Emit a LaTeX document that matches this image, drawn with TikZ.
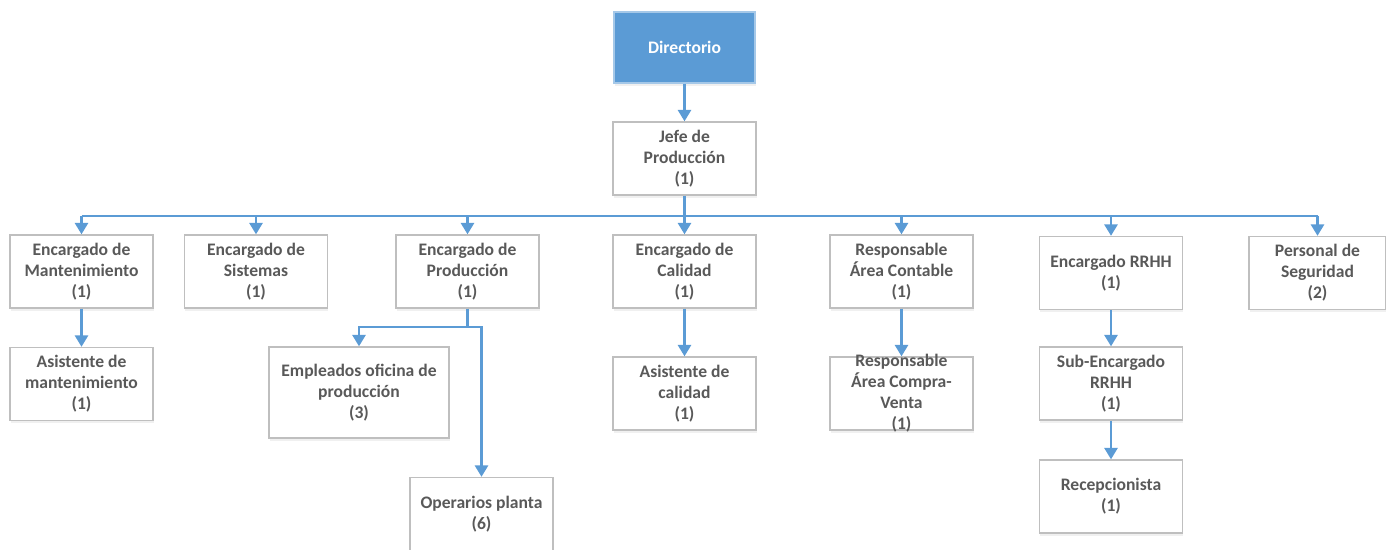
\documentclass[tikz,border=0pt]{standalone}
\usepackage{fontspec}
\setmainfont{Carlito}
\usetikzlibrary{arrows.meta,shadows}
\definecolor{orgblue}{HTML}{5B9BD5}
\definecolor{orgtext}{HTML}{595959}
\definecolor{orgline}{HTML}{BFBFBF}
\begin{document}
\begin{tikzpicture}[
  x=0.02cm, y=-0.02cm,
  every node/.style={font=\fontsize{10}{12}\selectfont\bfseries, align=center, text=orgtext},
  box/.style={draw=orgline, line width=0.8pt, fill=white, inner sep=2pt,
    minimum width=2.86cm, minimum height=1.46cm,
    drop shadow={opacity=0.12, shadow xshift=0.4pt, shadow yshift=-1.6pt}},
  link/.style={draw=orgblue, line width=1.3pt},
  arr/.style={link, -{Triangle[length=6.5pt, width=7.5pt]}}
]
\useasboundingbox (0,0) rectangle (1386,550);

\node[box, fill=orgblue, draw=orgblue!55, text=white, minimum width=2.82cm, minimum height=1.42cm]
  (dir) at (684.5,47.5) {Directorio};
\node[box] (jefe) at (684.5,158.5) {Jefe de\\Producción\\(1)};

\node[box] (man)  at (81.5,271.5)  {Encargado de\\Mantenimiento\\(1)};
\node[box] (sis)  at (256,271.5)   {Encargado de\\Sistemas\\(1)};
\node[box] (prod) at (467.5,271.5) {Encargado de\\Producción\\(1)};
\node[box] (cal)  at (684.5,271.5) {Encargado de\\Calidad\\(1)};
\node[box] (cont) at (901.5,271.5) {Responsable\\Área Contable\\(1)};
\node[box] (rrhh) at (1111,273)    {Encargado RRHH\\(1)};
\node[box, minimum width=2.74cm] (seg) at (1317.5,273) {Personal de\\Seguridad\\(2)};

\node[box] (asm)  at (81.5,384)    {Asistente de\\mantenimiento\\(1)};
\node[box, minimum width=3.6cm, minimum height=1.82cm]
  (emp) at (359,392.5) {Empleados oficina de\\producción\\(3)};
\node[box] (ope)  at (481.5,514)   {Operarios planta\\(6)};
\node[box] (acal) at (684.5,393.5) {Asistente de\\calidad\\(1)};
\node[box] (rcv)  at (901.5,393.5) {};
\node (rcvtxt) at (rcv) {Responsable\\Área Compra-\\Venta\\(1)};
\node[box] (sub)  at (1111,383.5)  {Sub-Encargado\\RRHH\\(1)};
\node[box] (rec)  at (1111,496.5)  {Recepcionista\\(1)};

\coordinate (bus)  at (684.5,216);
\coordinate (pbus) at (467.5,327);

\draw[arr] (dir) -- (jefe);
\draw[link] (jefe.south) -- (bus);
\draw[link] (bus -| man.north) -- (bus -| seg.north);
\draw[arr] (bus -| man.north) -- (man.north);
\draw[arr] (bus -| sis.north) -- (sis.north);
\draw[arr] (bus -| prod.north) -- (prod.north);
\draw[arr] (bus) -- (cal.north);
\draw[arr] (bus -| cont.north) -- (cont.north);
\draw[arr] (bus -| rrhh.north) -- (rrhh.north);
\draw[arr] (bus -| seg.north) -- (seg.north);

\draw[arr] (man) -- (asm);
\draw[link] (prod.south) -- (pbus);
\draw[arr] (pbus) -| (emp.north);
\draw[arr] (pbus) -| (ope.north);
\draw[arr] (cal) -- (acal);
\draw[arr] (cont) -- (rcv);
\draw[arr] (rrhh) -- (sub);
\draw[arr] (sub) -- (rec);
\end{tikzpicture}
\end{document}
